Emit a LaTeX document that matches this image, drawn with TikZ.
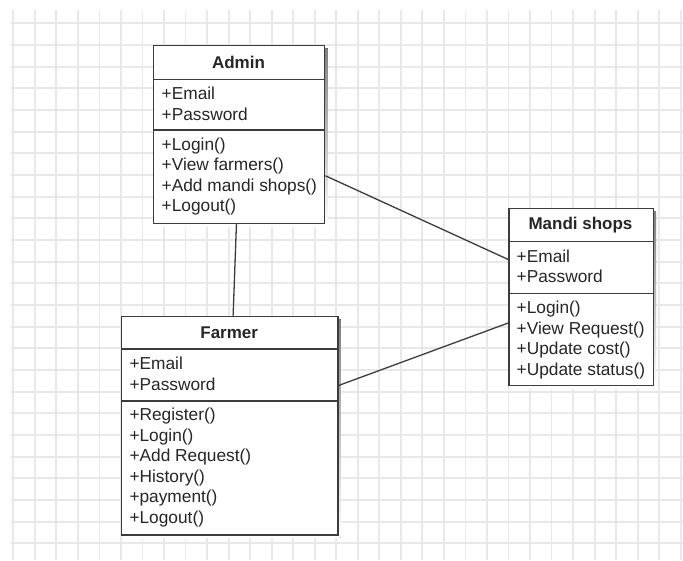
\documentclass[tikz,border=0pt]{standalone}
\usepackage{fontspec}
\setmainfont{Liberation Sans}
\usetikzlibrary{calc}
\definecolor{gridline}{HTML}{E8E8E8}
\definecolor{edge}{HTML}{3C3C3C}
\definecolor{shade}{HTML}{D4D4D4}
\begin{document}
\begin{tikzpicture}[x=1pt,y=-1pt,
  classbox/.style={draw=edge, line width=1.4pt, fill=white, inner sep=0pt, anchor=north west},
  member/.style={anchor=west, inner sep=0pt, font=\fontsize{17.3}{20}\selectfont,
    text=black!85, text height=12.2pt, text depth=3.6pt, yshift=-1.2pt},
  classname/.style={inner sep=0pt, font=\bfseries\fontsize{17}{20}\selectfont, text=black!85},
  divider/.style={draw=edge, line width=1.4pt},
  link/.style={draw=edge, line width=1.3pt}]

% page and background grid
\useasboundingbox (0,0) rectangle (683,560);
\fill[white] (0,0) rectangle (683,560);
\foreach \i in {0,...,31}
  \draw[gridline, line width=1.8pt] ({13.3+21.53*\i},10) -- ({13.3+21.53*\i},560);
\foreach \j in {0,...,24}
  \draw[gridline, line width=1.8pt] (11,{23.3+21.67*\j}) -- (683,{23.3+21.67*\j});

% soft shadows under the class boxes
\fill[shade] (156,48) rectangle (327.5,226);
\fill[shade] (511.5,211) rectangle (656,388.5);
\fill[shade] (124,319) rectangle (340.5,537.5);

% Admin
\node[classbox, minimum width=171pt, minimum height=177.7pt] (admin) at (153,45) {};
\draw[divider] (153,79.3) -- (324,79.3);
\draw[divider] (153,130) -- (324,130);
\node[classname] (adminTitle) at (238.5,62.2) {Admin};
\node[member] (a1) at (161.5,94)    {+Email};
\node[member] (a2) at (161.5,114.5) {+Password};
\node[member] (a3) at (161.5,144.5) {+Login()};
\node[member] (a4) at (161.5,165)   {+View farmers()};
\node[member] (a5) at (161.5,185.5) {+Add mandi shops()};
\node[member] (a6) at (161.5,206)   {+Logout()};

% Mandi shops
\node[classbox, minimum width=144.4pt, minimum height=177.3pt] (mandi) at (508.3,207.7) {};
\draw[divider] (508.3,241.7) -- (652.7,241.7);
\draw[divider] (508.3,293.7) -- (652.7,293.7);
\node[classname] (mandiTitle) at (580.5,224.7) {Mandi shops};
\node[member] (m1) at (516.5,256.5) {+Email};
\node[member] (m2) at (516.5,277)   {+Password};
\node[member] (m3) at (516.5,308)   {+Login()};
\node[member] (m4) at (516.5,328.5) {+View Request()};
\node[member] (m5) at (516.5,349)   {+Update cost()};
\node[member] (m6) at (516.5,369.5) {+Update status()};

% Farmer
\node[classbox, minimum width=216.3pt, minimum height=218.6pt] (farmer) at (121,315.7) {};
\draw[divider] (121,349) -- (337.3,349);
\draw[divider] (121,401) -- (337.3,401);
\node[classname] (farmerTitle) at (229.2,332.3) {Farmer};
\node[member] (f1) at (129.3,364)   {+Email};
\node[member] (f2) at (129.3,384.5) {+Password};
\node[member] (f3) at (129.3,415)   {+Register()};
\node[member] (f4) at (129.3,435.5) {+Login()};
\node[member] (f5) at (129.3,456)   {+Add Request()};
\node[member] (f6) at (129.3,476.5) {+History()};
\node[member] (f7) at (129.3,497)   {+payment()};
\node[member] (f8) at (129.3,517.5) {+Logout()};

% associations
\draw[link] ($(admin.south west)!0.484!(admin.south east)$) -- ($(farmer.north west)!0.515!(farmer.north east)$);
\draw[link] ($(admin.north east)!0.73!(admin.south east)$) -- ($(mandi.north west)!0.29!(mandi.south west)$);
\draw[link] ($(farmer.north east)!0.317!(farmer.south east)$) -- ($(mandi.north west)!0.645!(mandi.south west)$);
\end{tikzpicture}
\end{document}
